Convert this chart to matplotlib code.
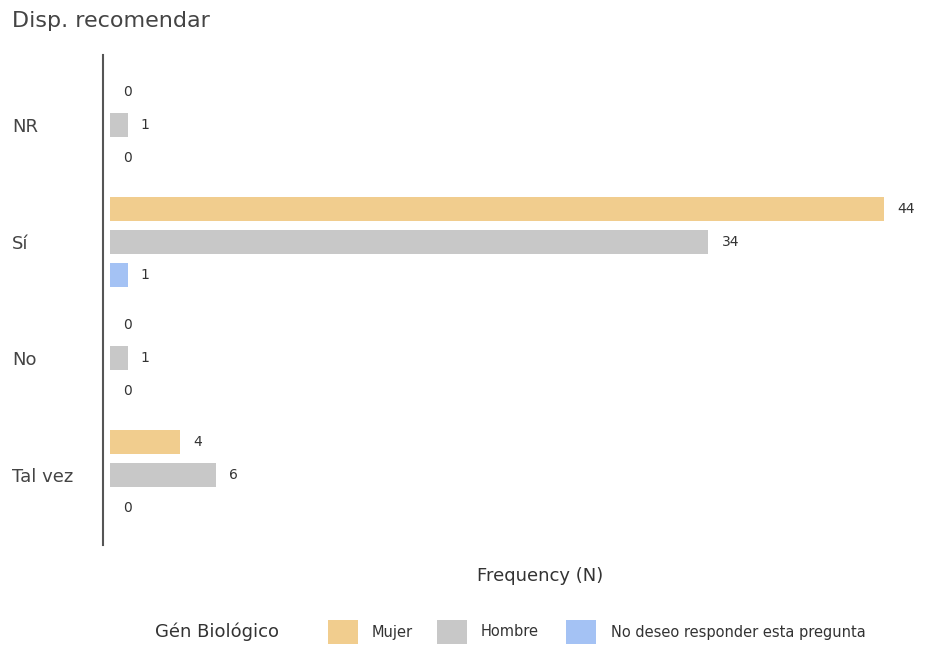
import matplotlib.pyplot as plt
from matplotlib.patches import Rectangle
import numpy as np

plt.rcParams['font.family'] = ['DejaVu Sans']

categories = ['NR', 'Sí', 'No', 'Tal vez']
series = ['Mujer', 'Hombre', 'No deseo responder esta pregunta']
mujer = [0, 44, 0, 4]
hombre = [1, 34, 1, 6]
no_resp = [0, 1, 0, 0]
colors = ['#F1CD8E', '#C8C8C8', '#A4C2F4']

W, H = 926, 646
fig = plt.figure(figsize=(W/100, H/100), dpi=100)
ax = fig.add_axes([103/W, 1-545/H, 1-103/W-0.003, (545-55)/H])

y = np.arange(len(categories))
offsets = [-0.282, 0, 0.282]
for vals, off, col in zip([mujer, hombre, no_resp], offsets, colors):
    ax.barh(y + off, vals, height=0.205, color=col)
    for yy, v in zip(y, vals):
        ax.annotate(str(v), (v, yy + off), xytext=(9.5, 0), textcoords='offset points',
                    va='center', ha='left', fontsize=10, color='#333333')

ax.set_xlim(-0.4, 46.2)
ax.set_ylim(3.6, -0.6)
ax.set_xticks([])
ax.set_yticks(y)
ax.set_yticklabels(categories, fontsize=13, color='#444444')
for lab in ax.get_yticklabels():
    lab.set_horizontalalignment('left')
ax.tick_params(axis='y', length=0, pad=65.5)
for s in ['top', 'right', 'bottom']:
    ax.spines[s].set_visible(False)
ax.spines['left'].set_color('#555555')
ax.spines['left'].set_linewidth(1.5)

fig.text(12/W, 1-21/H, 'Disp. recomendar', fontsize=16, color='#444444', va='center')
fig.text(540/W, 1-576/H, 'Frequency (N)', fontsize=13, color='#333333', ha='center', va='center')

# legend laid out by hand
fig.text(155/W, 1-632/H, 'Gén Biológico', fontsize=13, color='#333333', va='center')
patch_x = [328, 437, 566]
text_x = [372, 481, 611]
for px, tx, col, lab in zip(patch_x, text_x, colors, series):
    fig.add_artist(Rectangle((px/W, 1-644/H), 30/W, 24/H, transform=fig.transFigure,
                             facecolor=col, edgecolor='none'))
    fig.text(tx/W, 1-632/H, lab, fontsize=10.5, color='#333333', va='center')

fig.savefig('out.png', dpi=100)
